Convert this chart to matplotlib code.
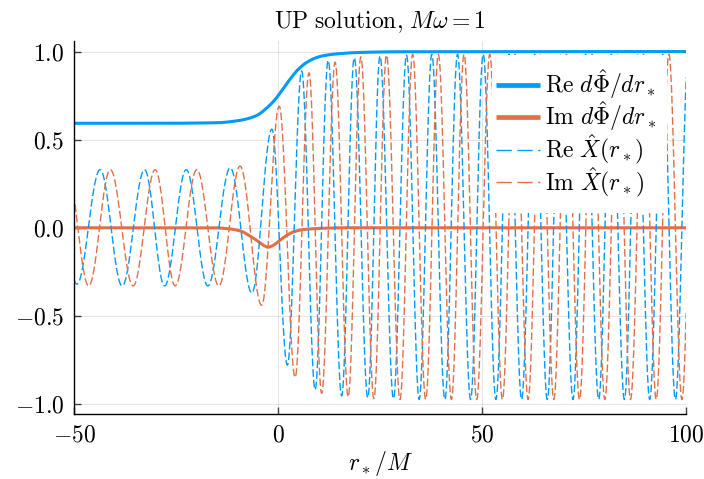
import numpy as np
import matplotlib
matplotlib.use("Agg")
import matplotlib.pyplot as plt
from matplotlib.patches import Rectangle

# ---------------------------------------------------------------------
# Data (r_* / M on the horizontal axis)
# ---------------------------------------------------------------------
# Re dPhi/dr_*  (smooth step from the horizon value to 1)
re_dphi_r = [-50, -30, -15, -10, -7, -5, -3, -1, 1, 3, 5, 7, 9, 11, 14, 20, 30, 100]
re_dphi_v = [0.593, 0.593, 0.596, 0.607, 0.622, 0.640, 0.675, 0.72, 0.78, 0.845,
             0.90, 0.938, 0.962, 0.976, 0.986, 0.995, 0.999, 1.0]

# Im dPhi/dr_*  (small dip near the potential peak)
im_dphi_r = [-50, -16, -12, -9, -7, -5, -3.5, -2.4, -1.2, 0.5, 2, 3.5, 5.5, 8.3, 12, 16, 100]
im_dphi_v = [0.0, 0.0, -0.006, -0.02, -0.045, -0.075, -0.10, -0.11, -0.10, -0.07,
             -0.045, -0.026, -0.013, -0.006, -0.002, 0.0, 0.0]

# Re X(r_*): successive extrema (location, value)
re_x_ext_r = [-54.6, -49.3, -43.6, -38.2, -32.7, -27.8, -22.5, -17.2, -11.7, -6.4,
              -1.5, 2.3, 5.8, 9.1, 12.3, 15.6, 18.7, 22.0, 25.0, 28.3,
              31.5, 34.6, 37.7, 40.9, 44.0, 47.2, 50.3, 53.4, 56.6, 59.7,
              62.9, 66.0, 69.1, 72.3, 75.4, 78.6, 81.7, 84.9, 88.0, 91.1,
              94.3, 97.4, 100.6]
re_x_ext_v = [0.33, -0.32, 0.33, -0.33, 0.33, -0.33, 0.33, -0.33, 0.34, -0.37,
              0.56, -0.78, 0.89, -0.92, 0.95, -0.955, 0.965, -0.965, 0.975, -0.97,
              0.98, -0.975, 0.985, -0.975, 0.985, -0.975, 0.985, -0.975, 0.985, -0.975,
              0.985, -0.975, 0.985, -0.975, 0.985, -0.975, 0.985, -0.975, 0.985, -0.975,
              0.985, -0.975, 0.985]

# Im X(r_*): successive extrema (location, value)
im_x_ext_r = [-51.7, -46.4, -41.1, -35.5, -30.1, -25.2, -19.9, -14.5, -9.3, -4.0,
              0.3, 4.2, 7.6, 10.7, 14.0, 17.2, 20.3, 23.5, 26.6, 29.9,
              33.0, 36.2, 39.3, 42.5, 45.6, 48.7, 51.9, 55.0, 58.1, 61.3,
              64.4, 67.6, 70.7, 73.9, 77.0, 80.1, 83.3, 86.4, 89.6, 92.7,
              95.8, 99.0, 102.1]
im_x_ext_v = [0.33, -0.33, 0.33, -0.33, 0.33, -0.33, 0.33, -0.33, 0.35, -0.44,
              0.69, -0.85, 0.88, -0.94, 0.94, -0.96, 0.97, -0.97, 0.98, -0.975,
              0.985, -0.975, 0.985, -0.975, 0.985, -0.975, 0.985, -0.975, 0.985, -0.975,
              0.985, -0.975, 0.985, -0.975, 0.985, -0.975, 0.985, -0.975, 0.985, -0.975,
              0.985, -0.975, 0.985]

x_ticks = [-50, 0, 50, 100]
y_ticks = [-1.0, -0.5, 0.0, 0.5, 1.0]

labels = [r'$\mathrm{Re}\ d\hat{\Phi}/dr_*$',
          r'$\mathrm{Im}\ d\hat{\Phi}/dr_*$',
          r'$\mathrm{Re}\ \hat{X}(r_*)$',
          r'$\mathrm{Im}\ \hat{X}(r_*)$']

BLUE = '#009AFA'
ORANGE = '#E36F47'


def through_extrema(r_ext, v_ext, n=30):
    """Smooth curve passing through a sequence of alternating extrema."""
    xs, ys = [], []
    for x0, y0, x1, y1 in zip(r_ext[:-1], v_ext[:-1], r_ext[1:], v_ext[1:]):
        t = np.linspace(0.0, 1.0, n, endpoint=False)
        xs.append(x0 + t * (x1 - x0))
        ys.append(0.5 * (y0 + y1) + 0.5 * (y0 - y1) * np.cos(np.pi * t))
    xs.append([r_ext[-1]])
    ys.append([v_ext[-1]])
    return np.concatenate(xs), np.concatenate(ys)


def monotone_curve(xk, yk, n=25):
    """Monotone cubic Hermite (Fritsch-Carlson) curve through the knots."""
    xk = np.asarray(xk, float)
    yk = np.asarray(yk, float)
    h = np.diff(xk)
    d = np.diff(yk) / h
    m = np.zeros_like(yk)
    m[0], m[-1] = d[0], d[-1]
    for i in range(1, len(xk) - 1):
        if d[i - 1] * d[i] <= 0:
            m[i] = 0.0
        else:
            w1 = 2 * h[i] + h[i - 1]
            w2 = h[i] + 2 * h[i - 1]
            m[i] = (w1 + w2) / (w1 / d[i - 1] + w2 / d[i])
    xs, ys = [], []
    for i in range(len(xk) - 1):
        t = np.linspace(0.0, 1.0, n, endpoint=False)
        h00 = 2 * t**3 - 3 * t**2 + 1
        h10 = t**3 - 2 * t**2 + t
        h01 = -2 * t**3 + 3 * t**2
        h11 = t**3 - t**2
        xs.append(xk[i] + t * h[i])
        ys.append(h00 * yk[i] + h10 * h[i] * m[i] + h01 * yk[i + 1] + h11 * h[i] * m[i + 1])
    xs.append([xk[-1]])
    ys.append([yk[-1]])
    return np.concatenate(xs), np.concatenate(ys)


plt.rcParams['mathtext.fontset'] = 'cm'
plt.rcParams['font.family'] = 'serif'

W, H = 704, 479
AX_L, AX_R, AX_T, AX_B = 74, 686, 41, 414

fig = plt.figure(figsize=(W / 100, H / 100), dpi=100)
ax = fig.add_axes([AX_L / W, (H - AX_B) / H, (AX_R - AX_L) / W, (AX_B - AX_T) / H])

px, py = monotone_curve(re_dphi_r, re_dphi_v)
qx, qy = monotone_curve(im_dphi_r, im_dphi_v)
ax.plot(px, py, color=BLUE, lw=2.2, solid_capstyle='round')
ax.plot(qx, qy, color=ORANGE, lw=2.2, solid_capstyle='round')
rx, ry = through_extrema(re_x_ext_r, re_x_ext_v)
ix, iy = through_extrema(im_x_ext_r, im_x_ext_v)
ax.plot(rx, ry, color=BLUE, lw=1.0, dashes=(5.5, 2.2))
ax.plot(ix, iy, color=ORANGE, lw=1.0, dashes=(5.5, 2.2))

ax.set_xlim(-50, 100)
ax.set_ylim(-1.057, 1.06)

ax.set_xticks(x_ticks, labels=[f'${v}$' for v in x_ticks])
ax.set_yticks(y_ticks, labels=[f'${v:.1f}$' for v in y_ticks])
ax.tick_params(direction='in', length=5, width=1.0, color='#404040',
               labelsize=17, pad=7)
ax.grid(True, color='black', alpha=0.1, lw=0.8)
ax.set_axisbelow(True)

for side in ('top', 'right'):
    ax.spines[side].set_visible(False)
for side in ('left', 'bottom'):
    ax.spines[side].set_linewidth(1.0)
    ax.spines[side].set_color('black')

ax.set_title(r'$\mathrm{UP\ solution{,}}\ M\omega = 1$', fontsize=17, pad=9)
ax.set_xlabel(r'$r_*/M$', fontsize=17, labelpad=2)


# Legend box drawn in axes coordinates (evenly spaced rows)
def ax_xy(x_px, y_px):
    return (x_px - AX_L) / (AX_R - AX_L), (AX_B - y_px) / (AX_B - AX_T)


box_l, box_t = ax_xy(492, 55)
box_r, box_b = ax_xy(667, 213)
ax.add_patch(Rectangle((box_l, box_b), box_r - box_l, box_t - box_b,
                       transform=ax.transAxes, facecolor='white',
                       edgecolor='none', zorder=5, clip_on=False))
styles = [dict(color=BLUE, lw=3.4),
          dict(color=ORANGE, lw=3.4),
          dict(color=BLUE, lw=1.0, dashes=(11, 4)),
          dict(color=ORANGE, lw=1.0, dashes=(11, 4))]
row_y = [85, 117.3, 149.6, 182]
for lab, st, yc in zip(labels, styles, row_y):
    (hx0, hy), (hx1, _) = ax_xy(496, yc), ax_xy(540, yc)
    ax.plot([hx0, hx1], [hy, hy], transform=ax.transAxes, zorder=6,
            clip_on=False, solid_capstyle='butt', **st)
    tx, ty = ax_xy(545, yc + 8)
    ax.text(tx, ty, lab, transform=ax.transAxes, fontsize=17,
            ha='left', va='baseline', zorder=6)

fig.savefig('out.png', dpi=100)
